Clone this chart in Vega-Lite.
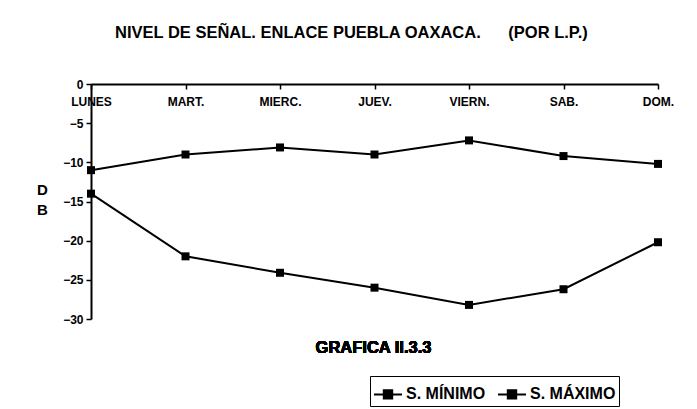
{
  "$schema": "https://vega.github.io/schema/vega-lite/v6.json",
  "width": 567,
  "height": 235,
  "autosize": "none",
  "padding": {"left": 91, "top": 84, "right": 39, "bottom": 90},
  "background": "white",
  "config": {"view": {"stroke": null}, "font": "Liberation Sans"},
  "title": {
    "text": "NIVEL DE SEÑAL. ENLACE PUEBLA OAXACA.\u00a0\u00a0\u00a0\u00a0\u00a0\u00a0(POR L.P.)",
    "anchor": "start",
    "frame": "group",
    "dx": 24,
    "offset": 37,
    "fontSize": 16.5,
    "fontWeight": "bold",
    "color": "black",
    "font": "Liberation Sans"
  },
  "data": {
    "values": [
      {"dia": "LUNES", "serie": "S. MÍNIMO", "db": -14},
      {"dia": "MART.", "serie": "S. MÍNIMO", "db": -22},
      {"dia": "MIERC.", "serie": "S. MÍNIMO", "db": -24.1},
      {"dia": "JUEV.", "serie": "S. MÍNIMO", "db": -26},
      {"dia": "VIERN.", "serie": "S. MÍNIMO", "db": -28.2},
      {"dia": "SAB.", "serie": "S. MÍNIMO", "db": -26.2},
      {"dia": "DOM.", "serie": "S. MÍNIMO", "db": -20.2},
      {"dia": "LUNES", "serie": "S. MÁXIMO", "db": -11},
      {"dia": "MART.", "serie": "S. MÁXIMO", "db": -9},
      {"dia": "MIERC.", "serie": "S. MÁXIMO", "db": -8.1},
      {"dia": "JUEV.", "serie": "S. MÁXIMO", "db": -9},
      {"dia": "VIERN.", "serie": "S. MÁXIMO", "db": -7.2},
      {"dia": "SAB.", "serie": "S. MÁXIMO", "db": -9.2},
      {"dia": "DOM.", "serie": "S. MÁXIMO", "db": -10.2}
    ]
  },
  "encoding": {
    "x": {
      "field": "dia", "type": "ordinal",
      "sort": ["LUNES", "MART.", "MIERC.", "JUEV.", "VIERN.", "SAB.", "DOM."],
      "scale": {"type": "point", "padding": 0},
      "axis": {
        "orient": "bottom", "offset": -235, "title": null, "labelAngle": 0,
        "labelFontSize": 12, "labelFontWeight": "bold", "labelColor": "black",
        "labelFont": "Liberation Sans", "labelOverlap": false,
        "domainColor": "black", "domainWidth": 2, "tickColor": "black",
        "tickWidth": 1.5, "tickSize": 5, "labelPadding": 7
      }
    },
    "y": {
      "field": "db", "type": "quantitative",
      "scale": {"domain": [-30, 0], "nice": false, "zero": false},
      "axis": {
        "tickCount": 7, "tickMinStep": 5, "grid": false,
        "labelOverlap": false, "labelFlush": false, "labelBound": false,
        "title": ["D", "B"], "titleAngle": 0, "titleFontSize": 15,
        "titleFontWeight": "bold", "titleColor": "black", "titleFont": "Liberation Sans",
        "titleX": -49, "titleY": 98, "titleAlign": "center", "titleBaseline": "top",
        "titleLineHeight": 20,
        "labelFontSize": 12, "labelFontWeight": "bold", "labelColor": "black",
        "labelFont": "Liberation Sans",
        "domainColor": "black", "domainWidth": 2, "tickColor": "black",
        "tickWidth": 1.5, "tickSize": 5, "labelPadding": 3
      }
    },
    "color": {
      "field": "serie", "type": "nominal",
      "scale": {"domain": ["S. MÍNIMO", "S. MÁXIMO"], "range": ["#000000", "#000000"]},
      "legend": {
        "orient": "none", "legendX": 279, "legendY": 292, "direction": "horizontal",
        "title": null, "strokeColor": "black", "padding": 3,
        "symbolType": "M-1,0H1M-0.3,-0.3H0.3V0.3H-0.3Z", "symbolSize": 784,
        "symbolStrokeWidth": 2, "symbolFillColor": "black", "symbolStrokeColor": "black",
        "labelFontSize": 16, "labelFontWeight": "bold", "labelColor": "black",
        "labelFont": "Liberation Sans", "columnPadding": 8, "labelOffset": 3
      }
    }
  },
  "layer": [
    {
      "mark": {"type": "line", "strokeWidth": 2}
    },
    {
      "mark": {"type": "point", "shape": "square", "filled": true, "size": 64, "opacity": 1}
    },
    {
      "mark": {"type": "text", "fontSize": 16.5, "fontWeight": "bold", "font": "Liberation Sans", "color": "black", "align": "center", "baseline": "middle", "dx": -1},
      "encoding": {
        "x": {"datum": "JUEV."},
        "y": {"datum": -33.7},
        "color": {"value": "black"},
        "text": {"value": "GRAFICA II.3.3"}
      }
    }
  ]
}
